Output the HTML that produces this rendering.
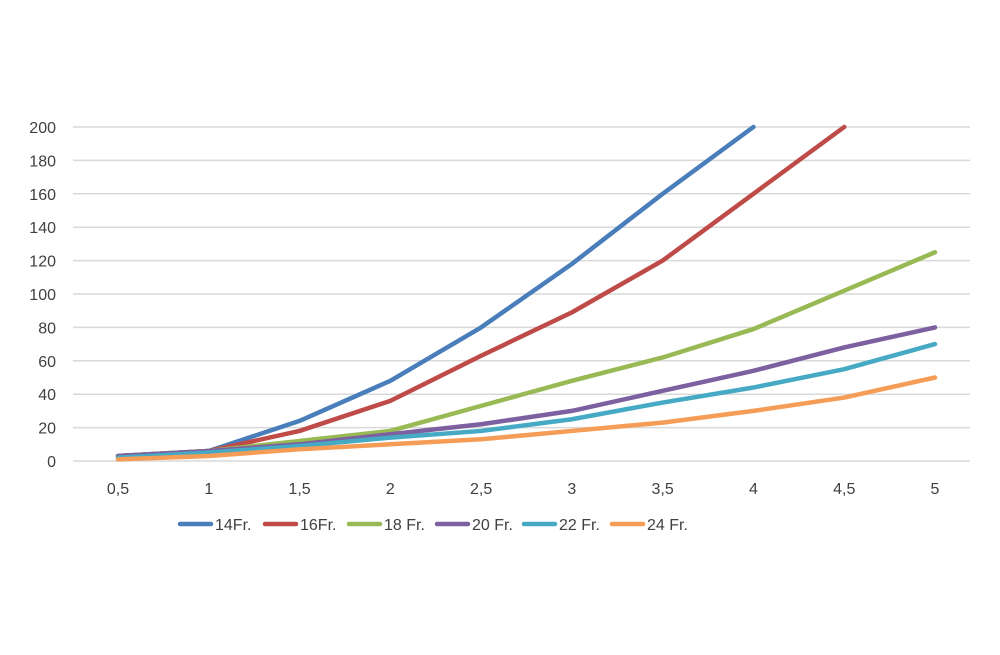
<!DOCTYPE html>
<html><head><meta charset="utf-8"><style>
body{margin:0;background:#fff;}
svg text{font-family:"Liberation Sans",sans-serif;fill:#404040;font-size:16px;}
</style></head><body>
<svg id="chart" width="1000" height="650" xmlns="http://www.w3.org/2000/svg">
<g id="grid"></g>
<g id="yaxis"></g>
<g id="xaxis"></g>
<g id="series"></g>
<g id="legend"></g>
</svg>
<script>
const categories=["0,5","1","1,5","2","2,5","3","3,5","4","4,5","5"];
const yTicks=[0,20,40,60,80,100,120,140,160,180,200];
const seriesNames=["14Fr.","16Fr.","18 Fr.","20 Fr.","22 Fr.","24 Fr."];
const seriesColors=["#4a7ebb","#be4b48","#98b954","#7d60a0","#46aac5","#f59d56"];
const s14=[3,6,24,48,80,118,160,200,null,null];
const s16=[3,6,18,36,63,89,120,160,200,null];
const s18=[3,6,12,18,33,48,62,79,102,125];
const s20=[3,6,10,16,22,30,42,54,68,80];
const s22=[2,5,9,14,18,25,35,44,55,70];
const s24=[1,3,7,10,13,18,23,30,38,50];
const allSeries=[s14,s16,s18,s20,s22,s24];
const NS="http://www.w3.org/2000/svg";
const x0=118,x1=935,yBase=461,yTop=127,yMax=200;
function xs(i){return x0+(x1-x0)*i/(categories.length-1);}
function ys(v){return yBase-(yBase-yTop)*v/yMax;}
function mk(t,a,p){const e=document.createElementNS(NS,t);for(const k in a)e.setAttribute(k,a[k]);p.appendChild(e);return e;}
const grid=document.getElementById('grid'),ya=document.getElementById('yaxis'),xa=document.getElementById('xaxis'),sg=document.getElementById('series'),lg=document.getElementById('legend');
yTicks.forEach(v=>{
  const l=mk('line',{x1:73,x2:970,y1:ys(v),y2:ys(v),stroke:'#d9d9d9','stroke-width':1.5},grid);
  
  
  const t=mk('text',{x:56,y:ys(v)+6,'text-anchor':'end'},ya);t.textContent=v;
  
  
});
categories.forEach((c,i)=>{
  const t=mk('text',{x:xs(i),y:494,'text-anchor':'middle'},xa);t.textContent=c;
  
  
});
allSeries.forEach((s,k)=>{
  let d='';s.forEach((v,i)=>{if(v===null)return;d+=(d?'L':'M')+xs(i)+','+ys(v);});
  const p=mk('path',{d:d,fill:'none',stroke:seriesColors[k],'stroke-width':4.5,'stroke-linejoin':'round','stroke-linecap':'round'},sg);
  
  
});
const legX=[178,263,347,435,522,610];
seriesNames.forEach((n,k)=>{
  const g=mk('g',{},lg);
  
  
  mk('line',{x1:legX[k]+2,x2:legX[k]+33,y1:524,y2:524,stroke:seriesColors[k],'stroke-width':4.5,'stroke-linecap':'round'},g);
  const t=mk('text',{x:legX[k]+37,y:530},g);t.textContent=n;
});
</script>
</body></html>
